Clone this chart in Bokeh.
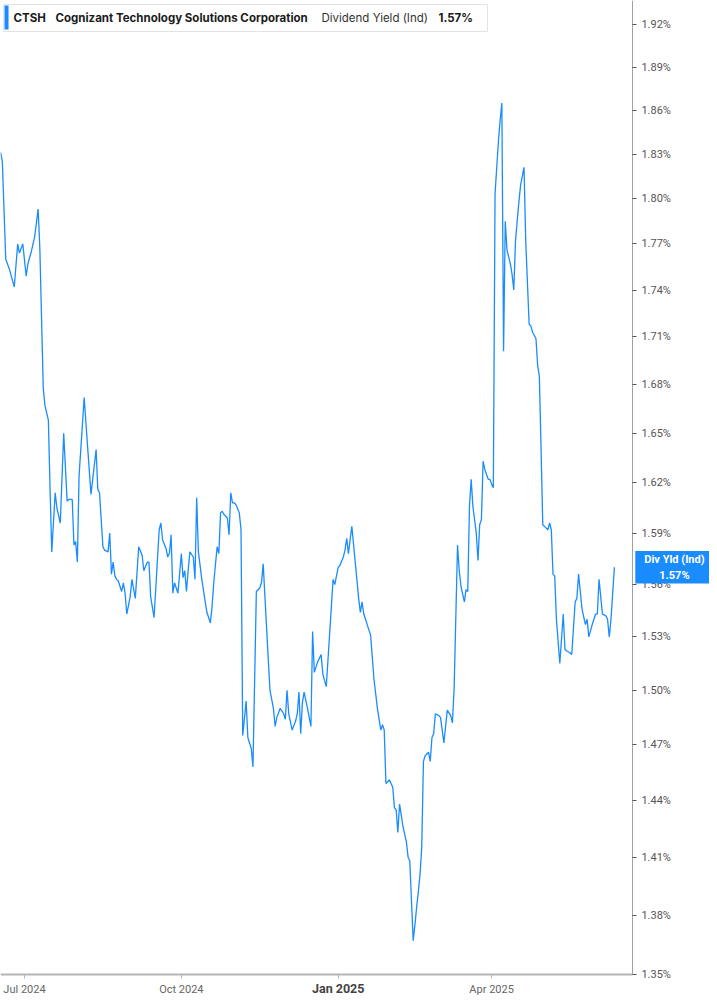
import pandas as pd
from bokeh.plotting import figure
from bokeh.models import Range1d, FixedTicker, PrintfTickFormatter, Label, ColumnDataSource
from bokeh.embed import file_html
from bokeh.resources import INLINE

# ---------------- data ----------------
symbol = "CTSH"
company = "Cognizant Technology Solutions Corporation"
metric = "Dividend Yield (Ind)"
metric_short = "Div Yld (Ind)"

dates = [
    "2024-06-17", "2024-06-18", "2024-06-20", "2024-06-22", "2024-06-25", "2024-06-27", "2024-06-28", "2024-06-30",
    "2024-07-02", "2024-07-03", "2024-07-05", "2024-07-07", "2024-07-09", "2024-07-10", "2024-07-12", "2024-07-13",
    "2024-07-15", "2024-07-16", "2024-07-17", "2024-07-19", "2024-07-20", "2024-07-22", "2024-07-24", "2024-07-26",
    "2024-07-27", "2024-07-29", "2024-07-30", "2024-07-31",
    "2024-08-01", "2024-08-02", "2024-08-05", "2024-08-07", "2024-08-09", "2024-08-12", "2024-08-13", "2024-08-14",
    "2024-08-16", "2024-08-17", "2024-08-19", "2024-08-20", "2024-08-21", "2024-08-22", "2024-08-23", "2024-08-24",
    "2024-08-25", "2024-08-27", "2024-08-28", "2024-08-29", "2024-08-30",
    "2024-09-01", "2024-09-02", "2024-09-04", "2024-09-06", "2024-09-08", "2024-09-09", "2024-09-11", "2024-09-12",
    "2024-09-13", "2024-09-15", "2024-09-18", "2024-09-19", "2024-09-20", "2024-09-22", "2024-09-23", "2024-09-24",
    "2024-09-25", "2024-09-26", "2024-09-27", "2024-09-28", "2024-09-29",
    "2024-10-01", "2024-10-02", "2024-10-03", "2024-10-04", "2024-10-05", "2024-10-06", "2024-10-08", "2024-10-09",
    "2024-10-10", "2024-10-11", "2024-10-12", "2024-10-13", "2024-10-15", "2024-10-16", "2024-10-18", "2024-10-19",
    "2024-10-20", "2024-10-22", "2024-10-23", "2024-10-24", "2024-10-25", "2024-10-26", "2024-10-28", "2024-10-29",
    "2024-10-30", "2024-10-31",
    "2024-11-01", "2024-11-02", "2024-11-04", "2024-11-05", "2024-11-06", "2024-11-08", "2024-11-09", "2024-11-11",
    "2024-11-12", "2024-11-14", "2024-11-16", "2024-11-17", "2024-11-18", "2024-11-21", "2024-11-22", "2024-11-24",
    "2024-11-25", "2024-11-26", "2024-11-28", "2024-11-30",
    "2024-12-01", "2024-12-02", "2024-12-03", "2024-12-05", "2024-12-07", "2024-12-08", "2024-12-09", "2024-12-10",
    "2024-12-11", "2024-12-12", "2024-12-14", "2024-12-16", "2024-12-17", "2024-12-18", "2024-12-20", "2024-12-21",
    "2024-12-22", "2024-12-23", "2024-12-25", "2024-12-27", "2024-12-29", "2024-12-30", "2024-12-31",
    "2025-01-01", "2025-01-02", "2025-01-04", "2025-01-05", "2025-01-06", "2025-01-07", "2025-01-08", "2025-01-09",
    "2025-01-11", "2025-01-13", "2025-01-14", "2025-01-15", "2025-01-16", "2025-01-18", "2025-01-20", "2025-01-22",
    "2025-01-23", "2025-01-24", "2025-01-26", "2025-01-27", "2025-01-28", "2025-01-29", "2025-01-31",
    "2025-02-01", "2025-02-02", "2025-02-03", "2025-02-04", "2025-02-05", "2025-02-06", "2025-02-07", "2025-02-08",
    "2025-02-10", "2025-02-11", "2025-02-12", "2025-02-13", "2025-02-14", "2025-02-15", "2025-02-16", "2025-02-17",
    "2025-02-18", "2025-02-19", "2025-02-20", "2025-02-21", "2025-02-22", "2025-02-23", "2025-02-24", "2025-02-25",
    "2025-02-26", "2025-02-27",
    "2025-03-01", "2025-03-02", "2025-03-04", "2025-03-06", "2025-03-08", "2025-03-09", "2025-03-10", "2025-03-12",
    "2025-03-13", "2025-03-14", "2025-03-16", "2025-03-17", "2025-03-18", "2025-03-19", "2025-03-20", "2025-03-21",
    "2025-03-23", "2025-03-24", "2025-03-25", "2025-03-26", "2025-03-27", "2025-03-28", "2025-03-30", "2025-03-31",
    "2025-04-01", "2025-04-02", "2025-04-03", "2025-04-04", "2025-04-05", "2025-04-06", "2025-04-07", "2025-04-08",
    "2025-04-09", "2025-04-10", "2025-04-12", "2025-04-13", "2025-04-14", "2025-04-15", "2025-04-16", "2025-04-17",
    "2025-04-18", "2025-04-20", "2025-04-21", "2025-04-23", "2025-04-24", "2025-04-25", "2025-04-27", "2025-04-28",
    "2025-04-29", "2025-04-30",
    "2025-05-01", "2025-05-02", "2025-05-04", "2025-05-05", "2025-05-06", "2025-05-07", "2025-05-08", "2025-05-09",
    "2025-05-11", "2025-05-13", "2025-05-14", "2025-05-15", "2025-05-17", "2025-05-18", "2025-05-20", "2025-05-21",
    "2025-05-22", "2025-05-23", "2025-05-24", "2025-05-26", "2025-05-27", "2025-05-28", "2025-05-30",
    "2025-06-01", "2025-06-02", "2025-06-03", "2025-06-05", "2025-06-07", "2025-06-08", "2025-06-09", "2025-06-10",
    "2025-06-12",
]

yields = [
    1.831, 1.825, 1.760, 1.754, 1.742, 1.770, 1.764, 1.770,
    1.749, 1.757, 1.765, 1.775, 1.793, 1.767, 1.678, 1.667, 1.658, 1.616,
    1.579, 1.614, 1.605, 1.596, 1.650, 1.609, 1.610, 1.610, 1.583, 1.585,
    1.573, 1.624, 1.672, 1.642, 1.613, 1.640, 1.616, 1.614, 1.582, 1.580,
    1.579, 1.590, 1.566, 1.573, 1.565, 1.563, 1.562, 1.556, 1.561, 1.555, 1.543,
    1.553, 1.563, 1.552, 1.582, 1.577, 1.568, 1.573, 1.573, 1.553, 1.541,
    1.592, 1.596, 1.586, 1.581, 1.576, 1.578, 1.589, 1.555, 1.561, 1.558, 1.555,
    1.578, 1.564, 1.568, 1.556, 1.568, 1.579, 1.576, 1.563, 1.611, 1.579,
    1.571, 1.563, 1.550, 1.544, 1.538, 1.547, 1.561, 1.582, 1.578, 1.602,
    1.603, 1.601, 1.599, 1.589, 1.614, 1.608,
    1.608, 1.607, 1.602, 1.592, 1.475, 1.494, 1.474, 1.468, 1.458, 1.556,
    1.558, 1.561, 1.572, 1.517, 1.500, 1.490, 1.480, 1.485, 1.490, 1.487,
    1.484, 1.500, 1.487, 1.478, 1.483, 1.487, 1.499, 1.476, 1.493, 1.499,
    1.490, 1.480, 1.533, 1.510, 1.516, 1.518, 1.520, 1.509, 1.502, 1.532,
    1.563, 1.560, 1.565,
    1.570, 1.571, 1.576, 1.580, 1.587, 1.578, 1.586, 1.594, 1.573, 1.552,
    1.544, 1.550, 1.543, 1.537, 1.531, 1.506, 1.498, 1.490, 1.478, 1.481,
    1.478, 1.449, 1.451,
    1.449, 1.447, 1.436, 1.435, 1.423, 1.438, 1.432, 1.426, 1.418, 1.410,
    1.408, 1.387, 1.367, 1.375, 1.384, 1.392, 1.401, 1.415, 1.461, 1.464,
    1.465, 1.466, 1.461, 1.474, 1.476, 1.487,
    1.486, 1.485, 1.471, 1.489, 1.486, 1.482, 1.501, 1.583, 1.568, 1.559,
    1.550, 1.557, 1.556, 1.606, 1.622, 1.606, 1.590, 1.574, 1.595, 1.598,
    1.633, 1.628, 1.622, 1.622,
    1.619, 1.617, 1.803, 1.821, 1.839, 1.853, 1.865, 1.701, 1.785, 1.766,
    1.757, 1.750, 1.740, 1.772, 1.785, 1.798, 1.809, 1.821, 1.772, 1.718,
    1.717, 1.713, 1.709, 1.692, 1.685, 1.640,
    1.595, 1.594, 1.592, 1.596, 1.592, 1.566, 1.565, 1.540, 1.515, 1.543,
    1.523, 1.522, 1.521, 1.520, 1.550, 1.552, 1.566, 1.556, 1.546, 1.537,
    1.540, 1.530, 1.537,
    1.543, 1.543, 1.563, 1.543, 1.542, 1.540, 1.530, 1.540, 1.570,
]

x_tick_dates = ["2024-07-01", "2024-10-01", "2025-01-01", "2025-04-01"]
x_tick_labels = ["Jul 2024", "Oct 2024", "Jan 2025", "Apr 2025"]
bold_tick_label = "Jan 2025"
y_ticks = [1.35, 1.38, 1.41, 1.44, 1.47, 1.50, 1.53, 1.56, 1.59, 1.62, 1.65,
           1.68, 1.71, 1.74, 1.77, 1.80, 1.83, 1.86, 1.89, 1.92]

x_view = ("2024-06-16 22:10", "2025-08-06 19:00")   # visible window
x_axis_end = "2025-06-22 14:00"                     # where the value axis sits
y_view = (1.3385, 1.9372)
y_floor = 1.35                                      # where the time axis sits

assert len(dates) == len(yields)

# ---------------- styling ----------------
LINE = "#1a8cff"
FONT = "Roboto"
HFONT = "Inter"


def ms(s):
    return pd.Timestamp(s).value // 10**6


src = ColumnDataSource(dict(x=pd.to_datetime(dates), y=yields))

p = figure(width=709, height=997, x_axis_type="datetime", y_axis_type="log",
           y_axis_location="right",
           x_range=Range1d(pd.Timestamp(x_view[0]), pd.Timestamp(x_view[1])),
           y_range=Range1d(*y_view),
           output_backend="svg", toolbar_location=None,
           min_border=0, min_border_left=0, min_border_top=0,
           min_border_right=0, min_border_bottom=0)
p.background_fill_color = "white"
p.border_fill_color = "white"
p.outline_line_color = None
p.xgrid.visible = False
p.ygrid.visible = False

p.line("x", "y", source=src, line_color=LINE, line_width=1.3)

# x axis (time)
xa = p.xaxis[0]
xa.fixed_location = y_floor
xa.bounds = (ms(x_view[0]), ms(x_axis_end))
xa.ticker = FixedTicker(ticks=[ms(d) for d in x_tick_dates])
xa.major_label_overrides = {ms(d): ("" if lab == bold_tick_label else lab)
                            for d, lab in zip(x_tick_dates, x_tick_labels)}
xa.axis_line_color = "#b5b5b5"
xa.axis_line_width = 2
xa.major_tick_line_color = "#b5b5b5"
xa.major_tick_out = 4
xa.major_tick_in = 0
xa.minor_tick_line_color = None
xa.major_label_text_font = FONT
xa.major_label_text_font_size = "11px"
xa.major_label_text_color = "#666666"
xa.major_label_standoff = 5

# y axis (yield)
ya = p.yaxis[0]
ya.fixed_location = ms(x_axis_end)
ya.bounds = (y_floor, y_view[1])
ya.ticker = FixedTicker(ticks=y_ticks)
ya.formatter = PrintfTickFormatter(format="%.2f%%")
ya.axis_line_color = "#a0a0a0"
ya.axis_line_width = 1
ya.major_tick_line_color = "#555555"
ya.major_tick_out = 4
ya.major_tick_in = 0
ya.minor_tick_line_color = None
ya.major_label_text_font = FONT
ya.major_label_text_font_size = "11px"
ya.major_label_text_color = "#555555"
ya.major_label_standoff = 5

# bold year tick label
for d, lab in zip(x_tick_dates, x_tick_labels):
    if lab == bold_tick_label:
        p.add_layout(Label(x=ms(d), y=y_floor, y_offset=-7, text=lab,
                           text_align="center", text_baseline="top",
                           text_font=FONT, text_font_style="bold",
                           text_font_size="12.5px", text_color="#444444"))

# current value tag on the axis
last = yields[-1]
p.add_layout(Label(x=ms(x_axis_end), y=last, x_offset=42, text=f"{metric_short}\n{last:.2f}%",
                   text_align="center", text_baseline="middle",
                   text_font=FONT, text_font_style="bold", text_font_size="11px",
                   text_color="white", background_fill_color=LINE,
                   padding=dict(left=9, right=9, top=2, bottom=2)))

# header box (size set by padding around a hair space)
x0 = ms(x_view[0])
y1 = y_view[1]
p.add_layout(Label(x=x0, y=y1, x_offset=3, y_offset=-4, text="\u200a",
                   text_align="left", text_baseline="top", text_font=FONT,
                   text_font_size="20px", text_color="white",
                   background_fill_color="white", border_line_color="#e3e3e3",
                   border_line_width=1,
                   padding=dict(left=241, right=241, top=2, bottom=1)))
p.add_layout(Label(x=x0, y=y1, x_offset=4, y_offset=-5, text="\u200a",
                   text_align="left", text_baseline="top", text_font=FONT,
                   text_font_size="20px", text_color=LINE,
                   background_fill_color=LINE,
                   padding=dict(left=1, right=1, top=0, bottom=0)))

header_parts = [
    (symbol, 13, "bold", "#1a1a1a"),
    (company, 55, "bold", "#1a1a1a"),
    (metric, 321, "normal", "#333333"),
    (f"{last:.2f}%", 438, "bold", "#1a1a1a"),
]
for txt, off, style, col in header_parts:
    p.add_layout(Label(x=x0, y=y1, x_offset=off, y_offset=-17, text=txt,
                       text_align="left", text_baseline="middle", text_font=HFONT,
                       text_font_style=style, text_font_size="11.5px", text_color=col))

open("out.html", "w").write(file_html(p, INLINE))
